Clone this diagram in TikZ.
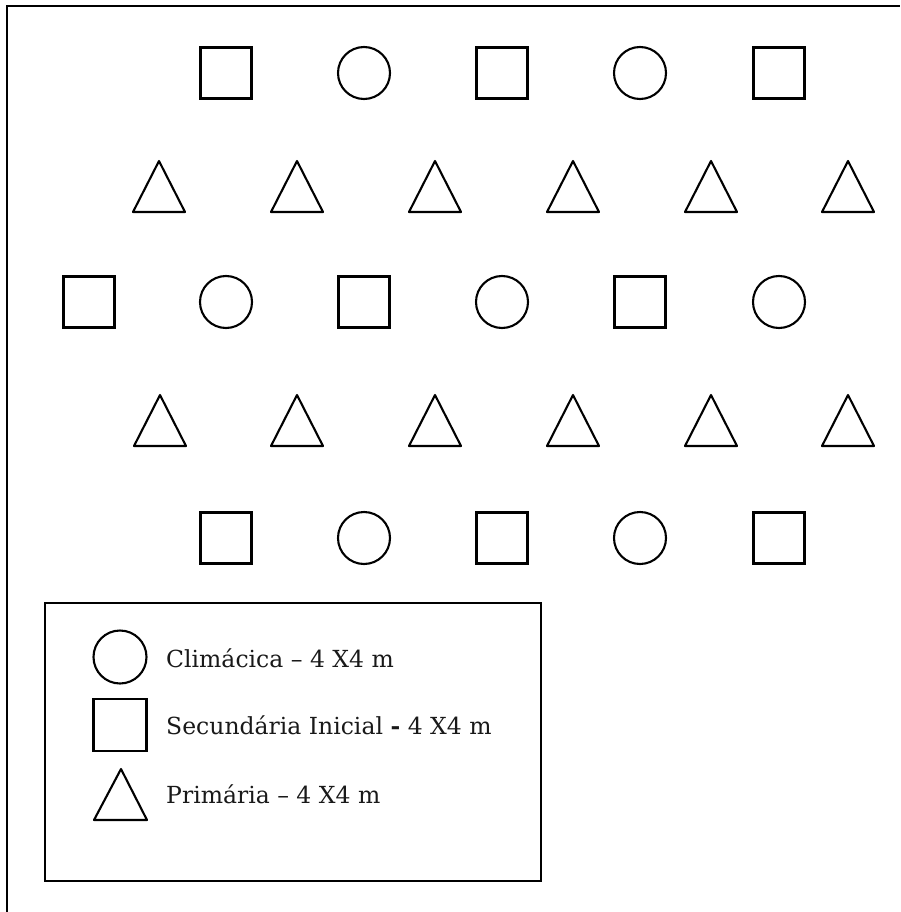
\documentclass[tikz,border=0pt]{standalone}
\usepackage{fontspec}
\setmainfont{DejaVu Serif}
\begin{document}
\begin{tikzpicture}[x=1pt,y=-1pt,
  shp/.style={draw=black,line width=2.1pt,fill=none,inner sep=0pt,outer sep=0pt},
  sq/.style={shp,rectangle,minimum width=51pt,minimum height=51pt},
  circ/.style={shp,circle,minimum size=52pt},
  tri/.style={line width=2.1pt,draw=black,line join=round},
  lbl/.style={anchor=base west,inner sep=0pt,font=\fontsize{23.5}{28}\selectfont,text=black!90}]
\useasboundingbox (0,0) rectangle (900,912);
% frame (top and left edges)
\coordinate (fa) at (7,912);
\coordinate (fb) at (7,6);
\coordinate (fc) at (900,6);
\draw[line width=2pt] (fa) -- (fb) -- (fc);
% row 1
\node[sq] (r1a) at (226,73) {};
\node[circ] (r1b) at (364,73) {};
\node[sq] (r1c) at (502,73) {};
\node[circ] (r1d) at (640,73) {};
\node[sq] (r1e) at (779,73) {};
% row 2 triangles
\foreach \x [count=\i] in {159,297,435,573,711,848}{
  \draw[tri] (\x-26,212) -- (\x,161) -- (\x+26,212) -- cycle;
}
% row 3
\node[sq] (r3a) at (89,302) {};
\node[circ] (r3b) at (226,302) {};
\node[sq] (r3c) at (364,302) {};
\node[circ] (r3d) at (502,302) {};
\node[sq] (r3e) at (640,302) {};
\node[circ] (r3f) at (779,302) {};
% row 4 triangles
\foreach \x [count=\i] in {160,297,435,573,711,848}{
  \draw[tri] (\x-26,446) -- (\x,395) -- (\x+26,446) -- cycle;
}
% row 5
\node[sq] (r5a) at (226,538) {};
\node[circ] (r5b) at (364,538) {};
\node[sq] (r5c) at (502,538) {};
\node[circ] (r5d) at (640,538) {};
\node[sq] (r5e) at (779,538) {};
% legend
\node[draw=black,line width=2pt,rectangle,minimum width=496pt,minimum height=278pt,inner sep=0pt] (leg) at (293,742) {};
\node[circ,minimum size=53pt] (lc) at (120,657) {};
\node[sq,minimum width=53pt,minimum height=52pt] (ls) at (120,725) {};
\draw[tri] (94,820) -- (121,769) -- (147,820) -- cycle;
\node[lbl] (t1) at (166,667) {Climácica – 4 X4 m};
\node[lbl] (t2) at (166,734) {Secundária Inicial \textbf{-} 4 X4 m};
\node[lbl] (t3) at (166,803) {Primária – 4 X4 m};
\end{tikzpicture}
\end{document}
